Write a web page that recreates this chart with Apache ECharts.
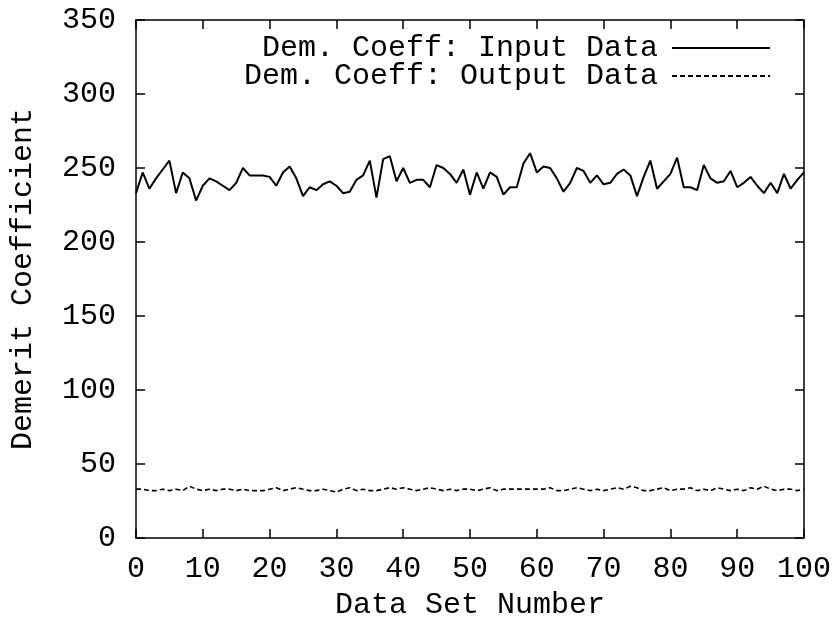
<!DOCTYPE html>
<html>
<head>
<meta charset="utf-8">
<script src="https://cdn.jsdelivr.net/npm/echarts@6/dist/echarts.min.js"></script>
<style>
  html, body { margin: 0; padding: 0; background: #fff; }
  #chart { width: 835px; height: 631px; }
</style>
</head>
<body>
<div id="chart"></div>
<script>
// Demerit coefficient per data set, 0..100
const dataSetNumbers = Array.from({ length: 101 }, (_, i) => i);

const inputCoeff = [
  233, 247, 236, 243, 249, 255, 233, 247, 243, 228,
  238, 243, 241, 238, 235, 240, 250, 245, 245, 245,
  244, 238, 247, 251, 243, 231, 237, 235, 239, 241,
  238, 233, 234, 242, 245, 255, 230, 256, 258, 241,
  250, 240, 242, 242, 237, 252, 250, 246, 240, 249,
  232, 247, 236, 247, 244, 232, 237, 237, 253, 260,
  247, 251, 250, 243, 234, 240, 250, 248, 240, 245,
  239, 240, 246, 249, 245, 231, 244, 255, 236, 241,
  246, 257, 237, 237, 235, 252, 243, 240, 241, 248,
  237, 240, 244, 238, 233, 240, 233, 246, 236, 242,
  247
];

const outputCoeff = [
  33, 33, 32, 32, 33, 32, 33, 32, 35, 33,
  32, 33, 32, 33, 33, 32, 33, 32, 32, 32,
  33, 34, 32, 33, 34, 33, 32, 32, 33, 32,
  31, 33, 34, 32, 33, 32, 32, 33, 34, 33,
  34, 33, 32, 33, 34, 33, 32, 33, 32, 33,
  33, 32, 33, 34, 32, 33, 33, 33, 33, 33,
  33, 33, 34, 32, 32, 33, 34, 33, 32, 33,
  32, 33, 34, 33, 35, 34, 32, 32, 33, 34,
  32, 33, 33, 34, 32, 33, 32, 34, 33, 32,
  33, 32, 34, 33, 35, 33, 32, 33, 33, 32,
  33
];

const seriesNames = ['Dem. Coeff: Input Data', 'Dem. Coeff: Output Data'];

const FONT = 'Liberation Mono';
const textStyle = { color: '#000', fontFamily: FONT, fontSize: 30 };

const frameAxisX = (pos, show) => ({
  type: 'value', position: pos, min: 0, max: 100, interval: 10,
  axisLine: { show: true, onZero: false, lineStyle: { color: '#000', width: 1.5 } },
  axisTick: { show: true, inside: true, length: 9, lineStyle: { color: '#000', width: 1.5 } },
  axisLabel: { show: show, ...textStyle, margin: 16 },
  splitLine: { show: false }
});
const frameAxisY = (pos, show) => ({
  type: 'value', position: pos, min: 0, max: 350, interval: 50,
  axisLine: { show: true, onZero: false, lineStyle: { color: '#000', width: 1.5 } },
  axisTick: { show: true, inside: true, length: 9, lineStyle: { color: '#000', width: 1.5 } },
  axisLabel: { show: show, ...textStyle, margin: 20 },
  splitLine: { show: false }
});

const legendBase = {
  right: 59, align: 'right', itemWidth: 98, itemHeight: 14, itemGap: 0,
  itemStyle: { opacity: 0 },
  textStyle: { ...textStyle, padding: [0, 9, 0, 0] }
};

const chart = echarts.init(document.getElementById('chart'), null, { renderer: 'canvas' });

chart.setOption({
  animation: false,
  backgroundColor: '#fff',
  grid: { left: 134, right: 31, top: 20, bottom: 93, containLabel: false },
  xAxis: [
    {
      ...frameAxisX('bottom', true),
      name: 'Data Set Number', nameLocation: 'middle', nameGap: 52,
      nameTextStyle: textStyle
    },
    frameAxisX('top', false)
  ],
  yAxis: [
    {
      ...frameAxisY('left', true),
      name: 'Demerit Coefficient', nameLocation: 'middle', nameGap: 98,
      nameRotate: 90, nameTextStyle: textStyle
    },
    frameAxisY('right', false)
  ],
  legend: [
    { ...legendBase, data: [seriesNames[0]], top: 28 },
    { ...legendBase, data: [seriesNames[1]], top: 56 }
  ],
  series: [
    {
      name: seriesNames[0], type: 'line', xAxisIndex: 0, yAxisIndex: 0,
      data: dataSetNumbers.map((x, i) => [x, inputCoeff[i]]),
      showSymbol: false, symbol: 'none',
      lineStyle: { color: '#000', width: 2 },
      itemStyle: { color: '#000' }
    },
    {
      name: seriesNames[1], type: 'line', xAxisIndex: 0, yAxisIndex: 0,
      data: dataSetNumbers.map((x, i) => [x, outputCoeff[i]]),
      showSymbol: false, symbol: 'none',
      lineStyle: { color: '#000', width: 1.6, type: [5, 3] },
      itemStyle: { color: '#000' }
    }
  ]
});
</script>
</body>
</html>
